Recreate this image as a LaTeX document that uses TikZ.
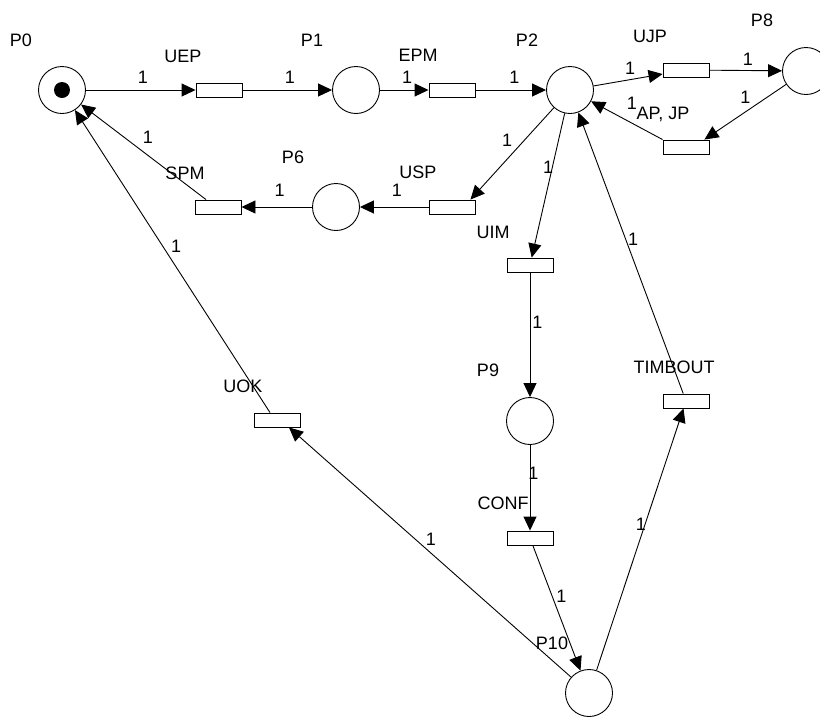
\documentclass[tikz,border=0pt]{standalone}
\usepackage{fontspec}
\setmainfont{Liberation Sans}
\usetikzlibrary{arrows.meta}

\begin{document}
\begin{tikzpicture}[
    x=1pt, y=-1pt,
    place/.style={circle, draw=black, line width=0.9pt,
                  minimum size=47pt, inner sep=0pt},
    trans/.style={rectangle, draw=black, line width=0.9pt,
                  minimum width=46pt, minimum height=14pt, inner sep=0pt},
    token/.style={circle, fill=black, minimum size=16pt, inner sep=0pt},
    flow/.style={-{Triangle[length=14pt, width=13pt]}, line width=0.9pt},
    tag/.style={font=\fontsize{18}{20}\selectfont, inner sep=0pt,
                text height=13pt, text depth=0pt},
    wt/.style={font=\fontsize{18}{20}\selectfont, inner sep=1pt,
               text height=13pt, text depth=0pt},
]
\useasboundingbox (0,0) rectangle (820,716);

% Places
\node[place] (p0)  at (62, 90)  {};
\node[token] (tok) at (p0)      {};
\node[place] (p1)  at (356, 90) {};
\node[place] (p2)  at (570, 90) {};
\node[place] (p8)  at (806, 71) {};
\node[place] (p6)  at (336, 207) {};
\node[place] (p9)  at (530, 421) {};
\node[place] (p10) at (589, 693) {};

% Transitions
\node[trans] (uep)     at (219, 90)  {};
\node[trans] (epm)     at (452, 90)  {};
\node[trans] (ujp)     at (686, 70)  {};
\node[trans] (apjp)    at (686, 147) {};
\node[trans] (usp)     at (452, 207) {};
\node[trans] (spm)     at (218, 207) {};
\node[trans] (uim)     at (530, 265) {};
\node[trans] (conf)    at (530, 538) {};
\node[trans] (timbout) at (686, 401) {};
\node[trans] (uok)     at (277, 420) {};

% Names (plain text, above left of each node)
\node[tag] (p0-t)      at (21, 40)   {P0};
\node[tag] (p1-t)      at (312, 40)  {P1};
\node[tag] (p2-t)      at (527, 40)  {P2};
\node[tag] (p8-t)      at (762, 20)  {P8};
\node[tag] (p6-t)      at (293, 157) {P6};
\node[tag] (p9-t)      at (488, 370) {P9};
\node[tag] (p10-t)     at (552, 643) {P10};
\node[tag] (uep-t)     at (183, 56)  {UEP};
\node[tag] (epm-t)     at (418, 55)  {EPM};
\node[tag] (ujp-t)     at (650, 36)  {UJP};
\node[tag] (apjp-t)    at (663, 113) {AP, JP};
\node[tag] (spm-t)     at (185, 173) {SPM};
\node[tag] (usp-t)     at (418, 172) {USP};
\node[tag] (uim-t)     at (493, 232) {UIM};
\node[tag] (timbout-t) at (674, 367) {TIMBOUT};
\node[tag] (uok-t)     at (243, 386) {UOK};
\node[tag] (conf-t)    at (503, 503) {CONF};

% Top row: P0 -> UEP -> P1 -> EPM -> P2
\draw[flow] (p0) -- node[wt, pos=0.52, above=5pt] (w1) {1} (uep);
\draw[flow] (uep) -- node[wt, pos=0.53, above=5pt] (w2) {1} (p1);
\draw[flow] (p1) -- node[wt, pos=0.56, above=5pt] (w3) {1} (epm);
\draw[flow] (epm) -- node[wt, pos=0.55, above=5pt] (w4) {1} (p2);

% Loop P2 -> UJP -> P8 -> AP, JP -> P2
\draw[flow] (p2) -- node[wt, pos=0.53, above=4pt] (w5) {1} (ujp);
\draw[flow] (ujp) -- node[wt, pos=0.53, above=4pt] (w6) {1} (p8);
\draw[flow] (p8) -- node[wt, pos=0.5, above=7pt] (w7) {1}
            ([xshift=-5pt]apjp.north east);
\draw[flow] (apjp.north west) -- node[wt, pos=0.43, above=12pt] (w8) {1} (p2);

% Return P2 -> USP -> P6 -> SPM -> P0
\draw[flow] (p2) -- node[wt, pos=0.46, above left=2pt] (w9) {1}
            ([xshift=-5pt]usp.north east);
\draw[flow] (usp) -- node[wt, pos=0.46, above=9pt] (w10) {1} (p6);
\draw[flow] (p6) -- node[wt, pos=0.46, above=9pt] (w11) {1} (spm);
\draw[flow] ([xshift=-12pt]spm.north) -- node[wt, pos=0.54, above right=3pt] (w12) {1} (p0);

% Down branch P2 -> UIM -> P9 -> CONF -> P10
\draw[flow] (p2) -- node[wt, pos=0.37, left=-2pt] (w13) {1} (uim);
\draw[flow] (uim) -- node[wt, pos=0.4, right=1pt] (w14) {1} (p9);
\draw[flow] (p9) -- node[wt, pos=0.33, right=-3pt] (w15) {1} (conf);
\draw[flow] (conf) -- node[wt, pos=0.4, right=3pt] (w16) {1} (p10);

% P10 -> TIMBOUT -> P2
\draw[flow] (p10) -- node[wt, pos=0.56, left=-2pt] (w17) {1} (timbout);
\draw[flow] (timbout) -- node[wt, pos=0.55, right=1pt] (w18) {1} (p2);

% P10 -> UOK -> P0
\draw[flow] (p10) -- node[wt, pos=0.52, above right=0pt] (w19) {1}
            ([xshift=12pt]uok.south);
\draw[flow] ([xshift=-7pt]uok.north) -- node[wt, pos=0.52, above right=1pt] (w20) {1} (p0);

\end{tikzpicture}
\end{document}
